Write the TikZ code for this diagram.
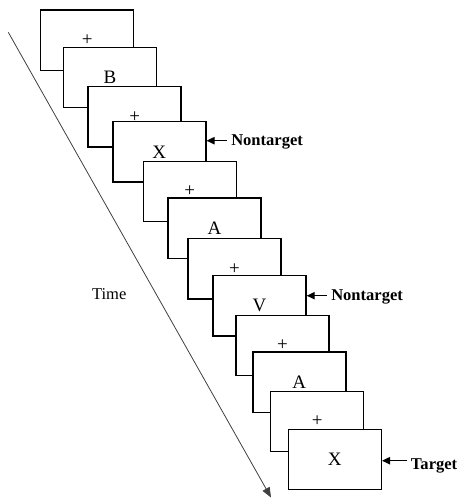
\documentclass[tikz,border=0pt]{standalone}
\usepackage{fontspec}
\setmainfont{Liberation Serif}
\usetikzlibrary{arrows.meta}
\tikzset{
  frame/.style={draw=black, line width=1.1pt, fill=white, minimum width=93*0.75pt, minimum height=60.5*0.75pt, inner sep=0pt, font=\fontsize{14.25}{16}\selectfont},
  lab/.style={anchor=base west, inner sep=0pt, font=\bfseries\fontsize{12.4}{14}\selectfont},
  ptr/.style={line width=0.8pt, -{Triangle[length=6pt,width=5.5pt]}},
  timeline/.style={draw=black!75, line width=0.6pt, -{Triangle[length=7.5pt,width=6pt]}}
}
\begin{document}
\begin{tikzpicture}[x=0.75pt,y=-0.75pt]
\useasboundingbox (0,0) rectangle (459,499);
\coordinate (ts) at (8.3,32.3);
\coordinate (te) at (271,497.5);
\draw[timeline] (ts) -- (te);
\node[anchor=base, inner sep=0pt, font=\fontsize{12.4}{14}\selectfont] (time) at (109.2,299) {Time};
\node[frame] (b1) at (87.2,40.2) {+};
\node[frame] (b2) at (110,77.5) {B};
\node[frame] (b3) at (134.7,116.7) {+};
\node[frame] (b4) at (159.3,151.8) {X};
\node[frame] (b5) at (189.8,191.5) {+};
\node[frame] (b6) at (214.5,228.2) {A};
\node[frame] (b7) at (234.5,268.7) {+};
\node[frame] (b8) at (259.5,305.7) {V};
\node[frame] (b9) at (282.5,345.5) {+};
\node[frame] (b10) at (299.3,382.2) {A};
\node[frame] (b11) at (317.2,421.5) {+};
\node[frame] (b12) at (334.8,459.5) {X};
\node[lab] (n1) at (231,145.7) {Nontarget};
\node[lab] (n2) at (331,300.7) {Nontarget};
\node[lab] (t1) at (410.7,469.3) {Target};
\coordinate (n1s) at (226.7,140.7);
\coordinate (n2s) at (326.7,295.7);
\coordinate (t1s) at (407.3,460.7);
\draw[ptr] (n1s) -- (b4.east |- n1s);
\draw[ptr] (n2s) -- (b8.east |- n2s);
\draw[ptr] (t1s) -- (b12.east |- t1s);
\end{tikzpicture}
\end{document}
